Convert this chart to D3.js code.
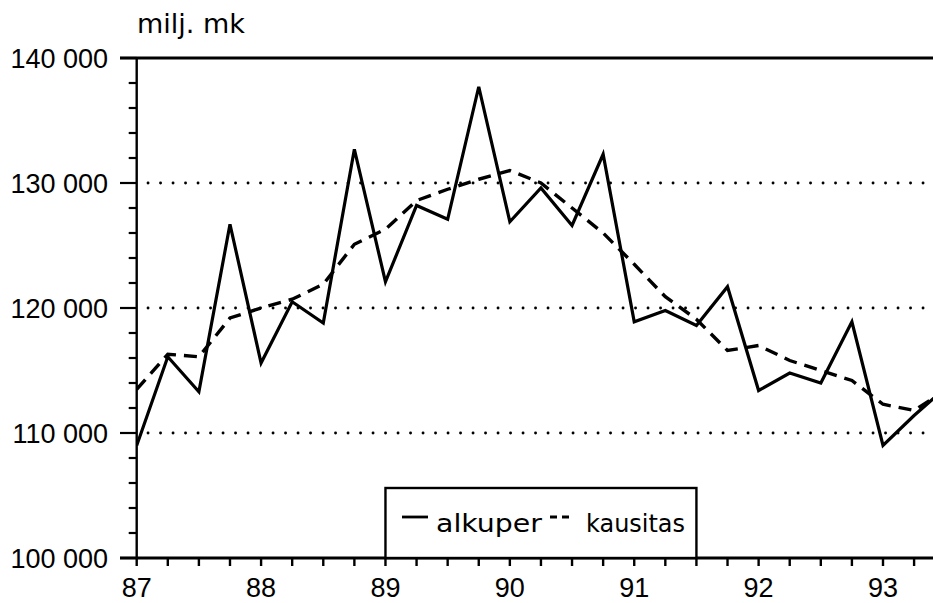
<!DOCTYPE html>
<html lang="fi">
  <head>
    <meta charset="UTF-8" />
    <title>milj. mk</title>
    <script src="https://d3js.org/d3.v7.min.js"></script>
    <style>
      body {
        margin: 0;
        background-color: #fff;
      }
      svg {
        display: block;
      }
      .num {
        font-family: "Liberation Sans", Arial, sans-serif;
        font-size: 27px;
        fill: #000;
      }
      .lbl {
        font-family: "DejaVu Sans", sans-serif;
        fill: #000;
      }
    </style>
  </head>
  <body>
    <svg id="chart" width="933" height="603"></svg>

    <script>
      // neljännekset (vuosi + neljännes)
      const quarters = [
        87, 87.25, 87.5, 87.75, 88, 88.25, 88.5, 88.75, 89, 89.25, 89.5, 89.75,
        90, 90.25, 90.5, 90.75, 91, 91.25, 91.5, 91.75, 92, 92.25, 92.5, 92.75,
        93, 93.25, 93.5,
      ];
      const alkuper = [
        109000, 116100, 113300, 126700, 115600, 120500, 118800, 132700, 122100,
        128200, 127100, 137700, 126900, 129600, 126600, 132300, 118900, 119800,
        118600, 121700, 113400, 114800, 114000, 118900, 109000, 111400, 113600,
      ];
      const kausitas = [
        113500, 116300, 116100, 119200, 120000, 120700, 121900, 125100, 126300,
        128600, 129500, 130300, 131000, 130000, 128000, 126000, 123500, 120900,
        119100, 116600, 117000, 115800, 115000, 114200, 112300, 111800, 113400,
      ];
      const yearTicks = [87, 88, 89, 90, 91, 92, 93];
      const yTicks = [100000, 110000, 120000, 130000, 140000];
      const gridValues = [110000, 120000, 130000];

      const W = 933;
      const plotLeft = 136.7,
        plotTop = 58,
        plotBottom = 558;

      const svg = d3.select("#chart");

      const x = d3.scaleLinear().domain([87, 93]).range([plotLeft, 883]);
      const y = d3
        .scaleLinear()
        .domain([100000, 140000])
        .range([plotBottom, plotTop]);

      svg
        .append("clipPath")
        .attr("id", "plot")
        .append("rect")
        .attr("x", plotLeft)
        .attr("y", plotTop - 5)
        .attr("width", W - plotLeft)
        .attr("height", plotBottom - plotTop + 5);

      // pisteviivat
      svg
        .selectAll(".grid")
        .data(gridValues)
        .enter()
        .append("line")
        .attr("x1", 148)
        .attr("x2", W)
        .attr("y1", (d) => y(d))
        .attr("y2", (d) => y(d))
        .attr("stroke", "#000")
        .attr("stroke-width", 2.8)
        .attr("stroke-linecap", "round")
        .attr("stroke-dasharray", "0.1 12.4");

      // pystyakselin pikkuviivat
      const minor = d3.range(100000, 140001, 2000);
      svg
        .selectAll(".ytick")
        .data(minor)
        .enter()
        .append("line")
        .attr("x1", (d) => (d % 10000 === 0 ? 120 : plotLeft - 8))
        .attr("x2", plotLeft)
        .attr("y1", (d) => y(d))
        .attr("y2", (d) => y(d))
        .attr("stroke", "#000")
        .attr("stroke-width", 2.2);

      // vaaka-akselin viivat
      const qTicks = d3.range(87, 93.76, 0.25);
      svg
        .selectAll(".xtick")
        .data(qTicks)
        .enter()
        .append("line")
        .attr("x1", (d) => x(d))
        .attr("x2", (d) => x(d))
        .attr("y1", plotBottom)
        .attr("y2", plotBottom + 8)
        .attr("stroke", "#000")
        .attr("stroke-width", 2.4);

      // kehys
      svg
        .append("line")
        .attr("x1", 120)
        .attr("x2", W)
        .attr("y1", plotTop)
        .attr("y2", plotTop)
        .attr("stroke", "#000")
        .attr("stroke-width", 2.8);
      svg
        .append("line")
        .attr("x1", plotLeft)
        .attr("x2", plotLeft)
        .attr("y1", plotTop)
        .attr("y2", plotBottom)
        .attr("stroke", "#000")
        .attr("stroke-width", 2.4);
      svg
        .append("line")
        .attr("x1", 120)
        .attr("x2", W)
        .attr("y1", plotBottom)
        .attr("y2", plotBottom)
        .attr("stroke", "#000")
        .attr("stroke-width", 3.2);

      // sarjat
      const line = (vals) =>
        d3
          .line()
          .x((d, i) => x(quarters[i]))
          .y((d) => y(d))(vals);

      const plot = svg.append("g").attr("clip-path", "url(#plot)");
      plot
        .append("path")
        .attr("d", line(kausitas))
        .attr("fill", "none")
        .attr("stroke", "#000")
        .attr("stroke-width", 3.4)
        .attr("stroke-dasharray", "13 8");
      plot
        .append("path")
        .attr("d", line(alkuper))
        .attr("fill", "none")
        .attr("stroke", "#000")
        .attr("stroke-width", 3.2)
        .attr("stroke-linejoin", "miter");

      // tekstit
      svg
        .selectAll(".ylab")
        .data(yTicks)
        .enter()
        .append("text")
        .attr("class", "num")
        .attr("x", 108)
        .attr("y", (d) => y(d))
        .attr("dy", "0.36em")
        .attr("text-anchor", "end")
        .text((d) => d3.format(",")(d).replace(",", " "));

      svg
        .selectAll(".xlab")
        .data(yearTicks)
        .enter()
        .append("text")
        .attr("class", "num")
        .attr("x", (d) => x(d))
        .attr("y", 597)
        .attr("text-anchor", "middle")
        .text((d) => d);

      svg
        .append("text")
        .attr("class", "lbl")
        .attr("x", 137)
        .attr("y", 33)
        .style("font-size", "27px")
        .text("milj. mk");

      // selite
      const lg = svg.append("g");
      lg.append("rect")
        .attr("x", x(89))
        .attr("y", 488)
        .attr("width", x(91.5) - x(89))
        .attr("height", plotBottom - 488)
        .attr("fill", "#fff")
        .attr("stroke", "#000")
        .attr("stroke-width", 2.4);
      lg.append("line")
        .attr("x1", 402)
        .attr("x2", 428)
        .attr("y1", 517)
        .attr("y2", 517)
        .attr("stroke", "#000")
        .attr("stroke-width", 2.8);
      lg.append("text")
        .attr("class", "lbl")
        .attr("x", 436)
        .attr("y", 532)
        .style("font-size", "25px")
        .attr("textLength", 106)
        .attr("lengthAdjust", "spacingAndGlyphs")
        .text("alkuper");
      lg.append("line")
        .attr("x1", 550)
        .attr("x2", 569)
        .attr("y1", 517)
        .attr("y2", 517)
        .attr("stroke", "#000")
        .attr("stroke-width", 2.8)
        .attr("stroke-dasharray", "7 5");
      lg.append("text")
        .attr("class", "lbl")
        .attr("x", 586)
        .attr("y", 532)
        .style("font-size", "25px")
        .attr("textLength", 99)
        .attr("lengthAdjust", "spacingAndGlyphs")
        .text("kausitas");
    </script>
  </body>
</html>
